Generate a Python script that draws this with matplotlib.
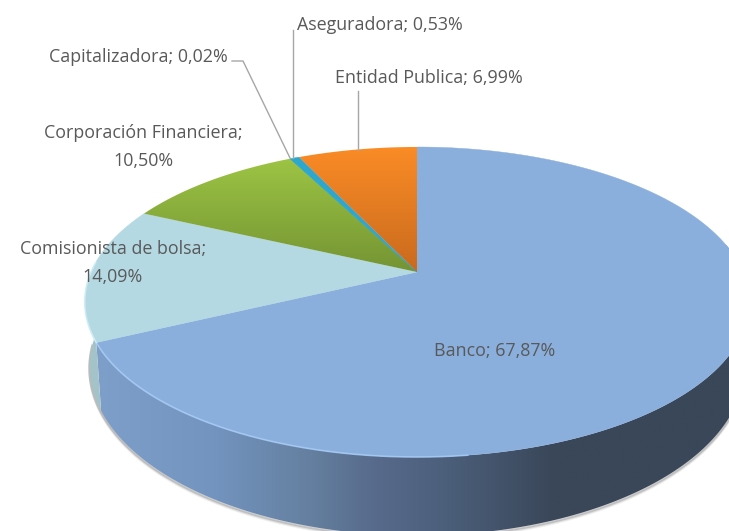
import numpy as np
import matplotlib
matplotlib.use('Agg')
import matplotlib.pyplot as plt
from matplotlib.colors import LinearSegmentedColormap
from matplotlib.patches import Polygon

plt.rcParams['font.family'] = ['Open Sans', 'DejaVu Sans']

categories = ['Banco', 'Comisionista de bolsa', 'Corporación Financiera',
              'Capitalizadora', 'Aseguradora', 'Entidad Publica']
shares = [67.87, 14.09, 10.50, 0.02, 0.53, 6.99]

W, H = 729, 531
CX, CY = 417, 272
A, B, K = 326, 149.2, 0.1935
TEXT = '#595959'
LEADER = '#a6a6a6'


def rim(pct):
    # pie share (clockwise from 12 o'clock) -> pixel on the tilted top face
    a = np.pi / 2 - np.asarray(pct) / 100 * 2 * np.pi
    u, v = np.cos(a), np.sin(a)
    den = 1 + K * v
    return CX + A * u / den, CY - B * v / den


def base(pct):
    # same rim on the floor of the disc
    x, y = rim(pct)
    return CX + (x - CX) * 0.985, CY + (y - CY) * 1.09 + 62


def gradient(ax, verts, stops, vertical=False):
    cmap = LinearSegmentedColormap.from_list('g', stops)
    patch = Polygon(verts, closed=True, fc='none', ec='none', transform=ax.transData)
    ax.add_patch(patch)
    xs, ys = verts[:, 0], verts[:, 1]
    ramp = np.linspace(0, 1, 256)
    img = ramp[:, None] if vertical else ramp[None, :]
    im = ax.imshow(img, cmap=cmap, aspect='auto', interpolation='bilinear',
                   extent=(xs.min(), xs.max(), ys.max(), ys.min()), zorder=patch.get_zorder())
    im.set_clip_path(patch)


def main():
    fig = plt.figure(figsize=(W / 100, H / 100), dpi=100)
    ax = fig.add_axes([0, 0, 1, 1])

    edges = np.concatenate([[0], np.cumsum(shares)])
    edges = edges / edges[-1] * 100

    # soft shadow under the disc
    bx_all, by_all = base(np.linspace(22, 74, 400))
    for off, alpha in [(3.0, 0.07), (2.0, 0.12), (1.0, 0.2)]:
        ax.plot(bx_all, by_all + off, color='#404040', lw=2, alpha=alpha, zorder=1)

    # wall of the disc, Comisionista sliver first and then Banco
    t = np.linspace(edges[1], 75.5, 60)
    x, y = rim(t)
    bx, by = base(t)
    wall = np.column_stack([np.r_[x, bx[::-1]], np.r_[y, by[::-1]]])
    ax.add_patch(Polygon(wall, closed=True, fc='#a3c3c8', ec='none', zorder=2))

    t = np.linspace(22, edges[1], 300)
    x, y = rim(t)
    bx, by = base(t)
    wall = np.column_stack([np.r_[x, bx[::-1]], np.r_[y, by[::-1]]])
    gradient(ax, wall, [(0.0, '#7f9fcb'), (0.18, '#7394bf'), (0.33, '#647f9f'),
                        (0.43, '#576a8b'), (0.55, '#4a5d78'), (0.70, '#3a4759'),
                        (1.0, '#3a4759')])

    # top face
    flat = ['#8aafdc', '#b4d9e3', None, '#2ea7cf', '#2ea7cf', None]
    ramps = {2: ['#9dc444', '#749433'], 5: ['#fb8c26', '#c96a1e']}
    for i, (p0, p1) in enumerate(zip(edges[:-1], edges[1:])):
        t = np.linspace(p0, p1, max(3, int((p1 - p0) * 8)))
        x, y = rim(t)
        verts = np.column_stack([np.r_[CX, x], np.r_[CY, y]])
        if flat[i] is not None:
            ax.add_patch(Polygon(verts, closed=True, fc=flat[i], ec=flat[i], lw=0.3, zorder=3))
        else:
            gradient(ax, verts, ramps[i], vertical=True)
            ax.images[-1].set_zorder(3)

    # bright rim on the front-left edge
    x, y = rim(np.linspace(48, edges[1], 200))
    ax.plot(x, y, color='#a9cdf6', lw=1.2, alpha=0.8, zorder=4)
    x, y = rim(np.linspace(edges[1], 76, 60))
    ax.plot(x, y, color='#d0f0fa', lw=1.2, alpha=0.8, zorder=4)

    # leader lines
    ax.plot([232, 243, 290], [61, 61, 158], color=LEADER, lw=1, zorder=5)
    ax.plot([293, 293], [30, 158], color=LEADER, lw=1, zorder=5)
    ax.plot([358, 358], [91, 150], color=LEADER, lw=1, zorder=5)

    labels = [f"{c}; {s:.2f}%".replace('.', ',') for c, s in zip(categories, shares)]
    fs = 12.9
    ax.text(495, 351, labels[0], ha='center', va='center', fontsize=fs, color=TEXT, zorder=6)
    ax.text(113, 263, labels[1].replace('; ', ';\n'), ha='center', va='center', fontsize=fs,
            color=TEXT, linespacing=1.65, zorder=6)
    ax.text(143, 147, labels[2].replace('; ', ';\n'), ha='center', va='center', fontsize=fs,
            color=TEXT, linespacing=1.65, zorder=6)
    ax.text(138, 57, labels[3], ha='center', va='center', fontsize=fs, color=TEXT, zorder=6)
    ax.text(380, 25, labels[4], ha='center', va='center', fontsize=fs, color=TEXT, zorder=6)
    ax.text(429, 78, labels[5], ha='center', va='center', fontsize=fs, color=TEXT, zorder=6)

    ax.set_xlim(0, W)
    ax.set_ylim(H, 0)
    ax.axis('off')
    fig.savefig('out.png', dpi=100, facecolor='white')


if __name__ == "__main__":
    main()
